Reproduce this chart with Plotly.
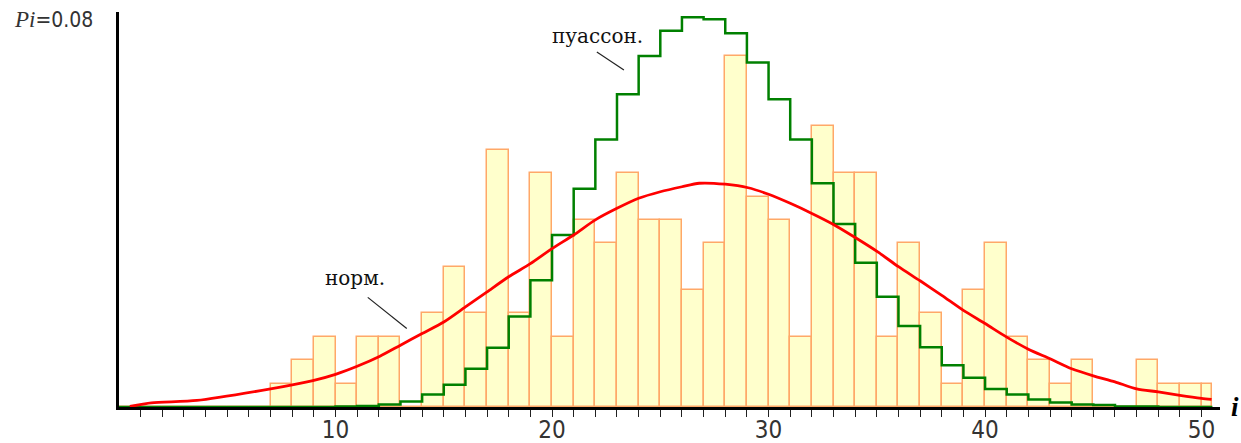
import plotly.graph_objects as go

# ---- data ----
values = list(range(0, 51))                       # i = 0..50
counts = [0, 0, 0, 0, 0, 0, 0, 1, 2, 3,           # 0-9
          1, 3, 3, 0, 4, 6, 4, 11, 4, 10,         # 10-19
          3, 8, 7, 10, 8, 8, 5, 7, 15, 9,         # 20-29
          8, 3, 12, 10, 10, 3, 7, 4, 1, 5,        # 30-39
          7, 3, 2, 1, 2, 0, 0, 2, 1, 1,           # 40-49
          1]                                      # 50
n_total = 215

poisson = [0, 0, 0, 0, 0, 0, 0, 0, 0, 0,
           0.0001, 0.0002, 0.0005, 0.0011, 0.0025, 0.0044, 0.0076, 0.0118, 0.0180, 0.0252,
           0.0342, 0.0434, 0.0532, 0.0622, 0.0698, 0.0748, 0.0775, 0.0771, 0.0743, 0.0685,
           0.0612, 0.0532, 0.0445, 0.0364, 0.0287, 0.0219, 0.0161, 0.0119, 0.0083, 0.0058,
           0.0036, 0.0025, 0.0015, 0.0009, 0.0005, 0.0004, 0.0001, 0.0001, 0, 0,
           0]

norm_x = [0.5, 1.5, 3.6, 7.0, 8.0, 9.0, 10.0, 11.0, 12.05, 13.0, 14.0, 15.0, 16.0, 17.0, 18.0,
          19.0, 20.0, 21.0, 22.0, 23.0, 24.0, 25.0, 26.0, 26.8, 28.0, 29.06, 30.0, 31.0,
          32.0, 33.0, 34.0, 35.06, 36.0, 37.0, 38.0, 39.0, 40.0, 41.0, 42.0, 43.0, 44.0,
          45.0, 46.0, 47.0, 48.0, 49.0, 50.0, 50.46]
norm_y = [0.0001, 0.0008, 0.0013, 0.0036, 0.0044, 0.0053, 0.0065, 0.0081, 0.0101, 0.0123, 0.0146,
          0.0169, 0.0199, 0.0229, 0.0259, 0.0285, 0.0315, 0.0342, 0.0372, 0.0395, 0.0415,
          0.0428, 0.0438, 0.0445, 0.0443, 0.0436, 0.0423, 0.0405, 0.0385, 0.0363, 0.0337,
          0.0308, 0.0279, 0.0251, 0.0222, 0.0192, 0.0166, 0.0139, 0.0115, 0.0096, 0.0076,
          0.0062, 0.0050, 0.0036, 0.0030, 0.0023, 0.0017, 0.0015]

tick_vals = list(range(1, 51))
tick_text = [str(v) if v % 10 == 0 else "" for v in tick_vals]

x_end = 50.5   # the drawing is cut here

# ---- figure ----
freq = [c / n_total for c in counts]
bar_x = [v for v in values]
bar_w = [min(1.0, x_end - v) for v in values]

fig = go.Figure()
fig.add_trace(go.Bar(
    x=bar_x, y=freq, width=bar_w, offset=0,
    marker=dict(color="#FFFFCC", line=dict(color="#FFA868", width=1.5)),
    hoverinfo="skip"))

step_x = values + [x_end]
step_y = poisson + [poisson[-1]]
fig.add_trace(go.Scatter(
    x=step_x, y=step_y, mode="lines",
    line=dict(color="#008000", width=2.5, shape="hv")))

fig.add_trace(go.Scatter(
    x=norm_x, y=norm_y, mode="lines",
    line=dict(color="#FF0000", width=2.8, shape="spline", smoothing=0.7)))

label_font = dict(family="DejaVu Serif, serif", size=20, color="#111")
fig.add_annotation(x=10.89, y=0.0256, text="норм.", showarrow=False,
                   font=label_font, xref="x", yref="y")
fig.add_annotation(x=22.12, y=0.0738, text="пуассон.", showarrow=False,
                   font=label_font, xref="x", yref="y")
fig.add_shape(type="line", x0=11.49, y0=0.0218, x1=13.29, y1=0.0156,
              line=dict(color="#222", width=1.2), xref="x", yref="y")
fig.add_shape(type="line", x0=22.07, y0=0.0706, x1=23.32, y1=0.0670,
              line=dict(color="#222", width=1.2), xref="x", yref="y")

narrow = "DejaVu Sans Condensed, Liberation Sans, sans-serif"
fig.add_annotation(
    x=-0.0974, y=0.98, xref="paper", yref="paper", xanchor="left", yanchor="middle",
    showarrow=False,
    text="<span style='font-family:Liberation Serif;font-style:italic;font-size:23px'>Pi</span>"
         "=0.08",
    font=dict(family=narrow, size=21, color="#333"))
fig.add_annotation(
    x=1.0135, y=0.0, xref="paper", yref="paper", xanchor="center", yanchor="middle",
    showarrow=False, text="<b><i>i</i></b>",
    font=dict(family="Liberation Serif", size=27, color="#000"))

fig.update_layout(
    width=1241, height=443,
    margin=dict(l=119, r=21, t=12, b=36, pad=0),
    paper_bgcolor="white", plot_bgcolor="white",
    showlegend=False, bargap=0,
    xaxis=dict(range=[0, 50.85], tickmode="array", tickvals=tick_vals, ticktext=tick_text,
               ticks="outside", ticklen=7, tickwidth=1.3, tickcolor="#222",
               showgrid=False, zeroline=False, showline=True, linecolor="#000", linewidth=2.5,
               automargin=False, ticklabelstandoff=-8,
               tickfont=dict(family=narrow, size=24, color="#333")),
    yaxis=dict(range=[0, 0.07855], showticklabels=False, ticks="", showgrid=False,
               zeroline=False, showline=True, linecolor="#000", linewidth=3,
               automargin=False),
)

fig.write_html("out.html", config={"displayModeBar": False},
               post_script="document.body.style.margin='0';document.body.style.overflow='hidden';")
